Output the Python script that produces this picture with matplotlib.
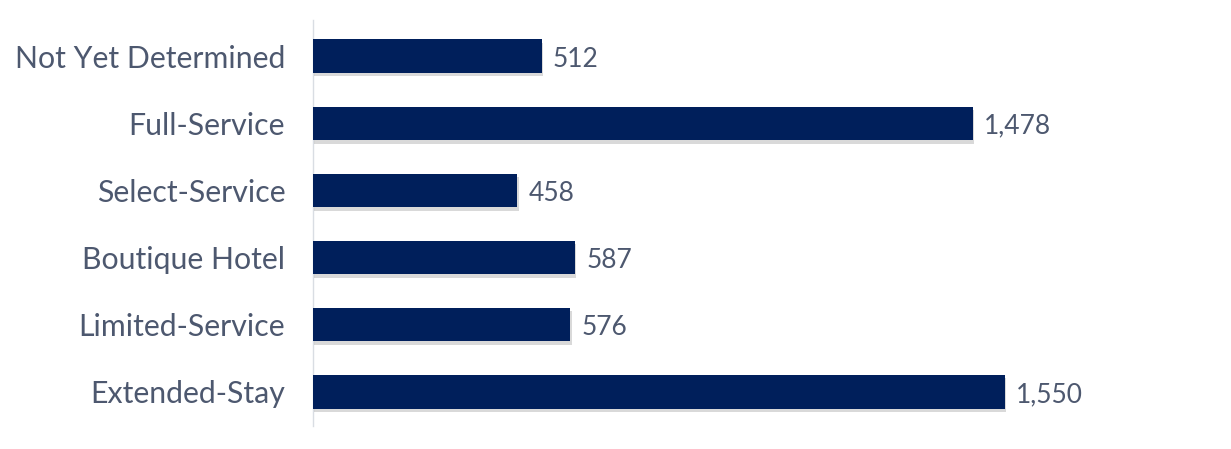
import matplotlib.pyplot as plt
import matplotlib.patheffects as pe

categories = ['Extended-Stay', 'Limited-Service', 'Boutique Hotel',
              'Select-Service', 'Full-Service', 'Not Yet Determined']
values = [1550, 576, 587, 458, 1478, 512]

bar_color = '#001f5b'
text_color = '#4d586f'

plt.rcParams['font.family'] = ['Lato', 'DejaVu Sans']

fig = plt.figure(figsize=(12.31, 4.49), dpi=100)
ax = fig.add_axes([313 / 1231, 23 / 449, 918 / 1231, 406 / 449])

pos = list(range(len(categories)))
bars = ax.barh(pos, values, height=0.5, color=bar_color, zorder=3)
for b in bars:
    b.set_path_effects([pe.SimplePatchShadow(offset=(1, -2.5), shadow_rgbFace='black', alpha=0.15),
                        pe.Normal()])

for p, v in zip(pos, values):
    ax.annotate(f'{v:,}', (v, p), xytext=(8, -2), textcoords='offset points',
                va='center', ha='left', fontsize=19, color=text_color)

ax.set_xlim(0, 918 / ((1005 - 313) / 1550))
ax.set_ylim(-0.51, 5.54)
ax.set_yticks(pos)
ax.set_yticklabels(categories, fontsize=21.8, color=text_color)
ax.tick_params(axis='y', length=0, pad=20)
ax.set_xticks([])

for s in ['top', 'right', 'bottom']:
    ax.spines[s].set_visible(False)
ax.spines['left'].set_color('#d9dde3')
ax.spines['left'].set_linewidth(1)

fig.savefig('out.png', dpi=100)
